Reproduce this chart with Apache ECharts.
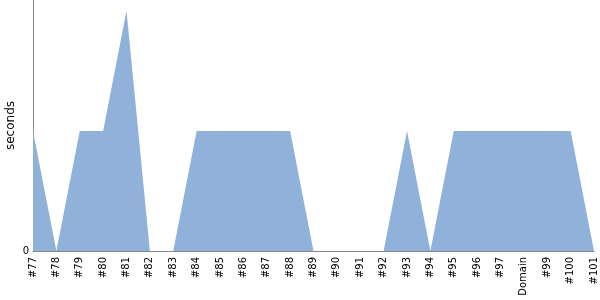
<!DOCTYPE html>
<html><head><meta charset="utf-8">
<script src="https://cdn.jsdelivr.net/npm/echarts@6/dist/echarts.min.js"></script>
<style>html,body{margin:0;padding:0;background:#fff}#c{width:600px;height:300px}</style>
</head><body><div id="c"></div>
<script>
const categories = ['#77','#78','#79','#80','#81','#82','#83','#84','#85','#86','#87','#88','#89','#90','#91','#92','#93','#94','#95','#96','#97','Domain','#99','#100','#101'];
const seconds = [1,0,1,1,2,0,0,1,1,1,1,1,0,0,0,0,1,0,1,1,1,1,1,1,0];
const yTicks = [0];

const chart = echarts.init(document.getElementById('c'), null, {renderer:'canvas'});
chart.setOption({
  animation: false,
  grid: {left: 33, right: 6, top: 0, bottom: 49, containLabel: false, outerBoundsMode: 'none'},
  xAxis: {
    type: 'category', data: categories, boundaryGap: false,
    axisLine: {lineStyle: {color: '#888'}},
    axisTick: {show: false},
    axisLabel: {rotate: 90, color: '#000', fontSize: 10, fontFamily: 'DejaVu Sans', interval: 0, margin: 6}
  },
  yAxis: {
    type: 'value', min: 0, max: 2.09,
    name: 'seconds', nameLocation: 'middle', nameGap: 16, nameMoveOverlap: false,
    nameTextStyle: {color: '#000', fontSize: 12, fontFamily: 'DejaVu Sans'},
    axisLine: {show: true, lineStyle: {color: '#888'}},
    axisTick: {show: false},
    splitLine: {show: false},
    axisLabel: {color: '#000', fontSize: 10, fontFamily: 'DejaVu Sans', margin: 4,
      customValues: yTicks, formatter: v => yTicks.includes(v) ? String(v) : ''}
  },
  series: [{
    type: 'line', data: seconds, symbol: 'none',
    lineStyle: {width: 0},
    areaStyle: {color: '#8fb1da', opacity: 1}
  }]
});
</script></body></html>
